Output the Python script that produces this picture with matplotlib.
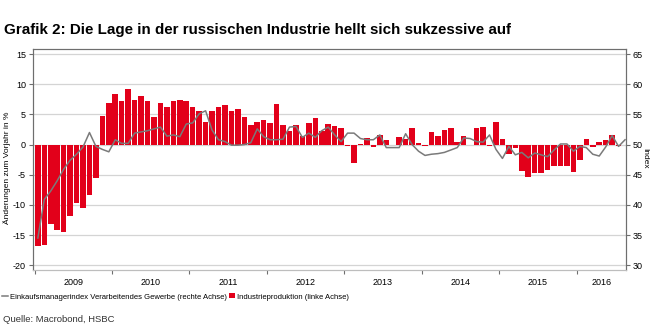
import numpy as np
import matplotlib.pyplot as plt
from matplotlib import font_manager
from matplotlib.lines import Line2D
from matplotlib.patches import Patch

# Industrieproduktion, Veränderung zum Vorjahr in % (monatlich ab Jan 2009)
industrieproduktion = [
    -16.9, -16.6, -13.1, -14.1, -14.5, -11.9, -9.7, -10.6, -8.3, -5.5, 4.8, 6.9,   # 2009
    8.4, 7.3, 9.2, 7.4, 8.1, 7.3, 4.6, 6.9, 6.2, 7.3, 7.4, 7.3,                     # 2010
    6.2, 5.5, 3.7, 5.5, 6.2, 6.5, 5.5, 5.9, 4.6, 3.3, 3.8, 4.1,                     # 2011
    3.6, 6.8, 3.2, 2.3, 3.2, 1.4, 3.6, 4.4, 2.3, 3.4, 3.1, 2.7,                     # 2012
    -0.3, -3.0, 0.1, 1.1, -0.4, 1.6, 0.8, -0.1, 1.2, 1.0, 2.8, 0.3,                 # 2013
    -0.2, 2.1, 1.4, 2.4, 2.8, 0.4, 1.5, 0.0, 2.8, 2.9, -0.3, 3.8,                   # 2014
    0.9, -1.5, -0.5, -4.4, -5.4, -4.7, -4.7, -4.2, -3.6, -3.5, -3.5, -4.5,          # 2015
    -2.6, 1.0, -0.4, 0.4, 0.7, 1.6, -0.3,                                           # 2016
]

# Einkaufsmanagerindex Verarbeitendes Gewerbe (monatlich ab Jan 2009)
pmi = [
    34.5, 40.9, 42.3, 44.0, 45.9, 47.4, 48.4, 49.6, 52.0, 49.7, 49.2, 48.8,
    50.8, 50.2, 50.2, 51.9, 52.1, 52.3, 52.6, 52.9, 51.4, 51.6, 51.3, 53.4,
    53.6, 55.1, 55.6, 52.4, 50.8, 50.5, 49.9, 49.9, 50.0, 50.3, 52.6, 51.3,
    50.8, 50.8, 50.9, 52.9, 53.0, 51.2, 51.9, 51.2, 52.3, 52.9, 51.6, 50.5,
    51.9, 51.9, 51.0, 50.8, 50.8, 51.6, 49.5, 49.5, 49.5, 51.8, 50.0, 48.9,
    48.2, 48.4, 48.5, 48.7, 49.1, 49.5, 51.1, 51.0, 50.5, 50.4, 51.6, 49.2,
    47.7, 49.7, 48.3, 48.7, 47.8, 48.6, 48.3, 48.0, 49.1, 50.1, 50.1, 48.9,
    49.7, 49.5, 48.4, 48.1, 49.6, 51.5, 49.7, 50.8,
]

jahre = [2009, 2010, 2011, 2012, 2013, 2014, 2015, 2016]

# Schrift: schmale Arial-Variante, falls vorhanden
fonts = {f.name for f in font_manager.fontManager.ttflist}
schrift = 'Liberation Sans Narrow' if 'Liberation Sans Narrow' in fonts else 'Liberation Sans'
plt.rcParams['font.family'] = [schrift, 'DejaVu Sans']
plt.rcParams['axes.unicode_minus'] = False

rot = '#e2001a'
grau = '#7a7a7a'
achse = '#6e6e6e'

fig = plt.figure(figsize=(6.5, 3.34), dpi=100)
ax = fig.add_axes([33 / 650, 1 - 270 / 334, (626 - 33) / 650, (270 - 49) / 334])

x_ip = np.arange(len(industrieproduktion)) + 0.5
ax.bar(x_ip, industrieproduktion, width=0.86, color=rot, zorder=2)

x_max = 91.65
ax.set_xlim(-0.25, x_max)
ax.set_ylim(-20.8, 15.85)
ax.set_yticks(range(-20, 16, 5))
ax.grid(axis='y', color='#d4d4d4', lw=0.9)
ax.set_axisbelow(True)

# Jahresgrenzen als Ticks, Jahreszahlen mittig dazwischen
ax.set_xticks(np.arange(0, 85, 12))
ax.set_xticklabels([])
mitte = [12 * i + 6 for i in range(len(jahre) - 1)] + [(84 + x_max) / 2]
ax.set_xticks(mitte, minor=True)
ax.set_xticklabels([str(j) for j in jahre], minor=True, fontsize=6.5)
ax.tick_params(axis='x', which='major', length=3, color=achse, direction='out')
ax.tick_params(axis='x', which='minor', length=0, pad=6)
ax.tick_params(axis='y', length=3, color=achse, labelsize=6.5, pad=2)

ax2 = ax.twinx()
x_pmi = np.arange(len(pmi)) + 0.5
ax2.plot(x_pmi, pmi, color=grau, lw=1.1)
ax2.set_ylim(-20.8 + 50, 15.85 + 50)
ax2.set_yticks(range(30, 66, 5))
ax2.tick_params(axis='y', length=3, color=achse, labelsize=6.5, pad=2)

for a in (ax, ax2):
    for seite in ('left', 'right', 'top'):
        a.spines[seite].set_color(achse)
        a.spines[seite].set_linewidth(0.8)
    a.spines['bottom'].set_color('#bdbdbd')
    a.spines['bottom'].set_linewidth(0.8)

fig.text(7 / 650, 1 - 168 / 334, 'Änderungen zum Vorjahr in %', rotation=90,
         ha='center', va='center', fontsize=6)
fig.text(645 / 650, 1 - 158 / 334, 'Index', rotation=270,
         ha='center', va='center', fontsize=6)

fig.text(4 / 650, 1 - 30 / 334, 'Grafik 2: Die Lage in der russischen Industrie hellt sich sukzessive auf',
         ha='left', va='center', fontsize=10.9, fontweight='bold')

handles = [Line2D([], [], color=grau, lw=1.1),
           Patch(facecolor=rot, edgecolor='none')]
labels = ['Einkaufsmanagerindex Verarbeitendes Gewerbe (rechte Achse)',
          'Industrieproduktion (linke Achse)']
fig.legend(handles, labels, loc='center left', bbox_to_anchor=(0.0, 1 - 297 / 334),
           ncol=2, frameon=False, fontsize=5.5, handlelength=0.8, handleheight=0.6,
           handletextpad=0.3, columnspacing=0.3, borderaxespad=0, borderpad=0.2)

fig.text(3 / 650, 1 - 320 / 334, 'Quelle: Macrobond, HSBC', ha='left', va='center',
         fontsize=6.8, color='#333333')

fig.savefig('out.png', dpi=100)
